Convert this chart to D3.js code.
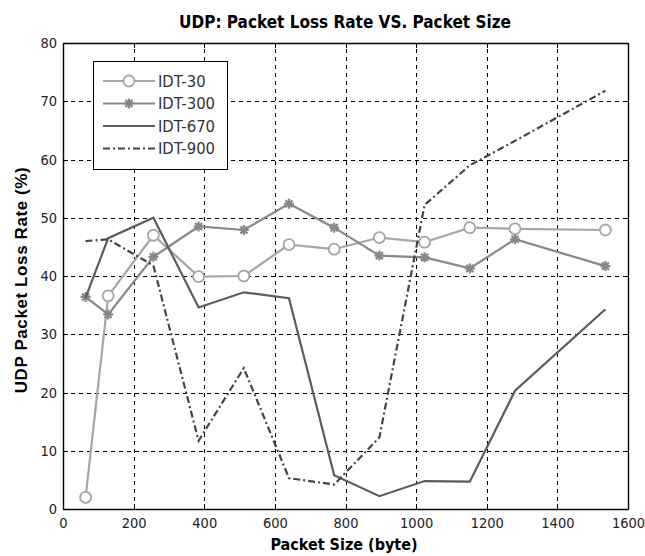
<!DOCTYPE html>
<html>
<head>
<meta charset="utf-8">
<script src="https://cdn.jsdelivr.net/npm/d3@7"></script>
<style>
  body { margin: 0; background: #fff; }
  text { font-family: "DejaVu Sans Condensed", "Liberation Sans Narrow", "Liberation Sans", Arial, sans-serif; }
</style>
</head>
<body>
<script>
// packet sizes (byte) shared by every series
const sizes = [64, 128, 256, 384, 512, 640, 768, 896, 1024, 1152, 1280, 1536];

// loss rate (%) per inter-departure time
const idt30  = [2, 36.6, 47, 39.9, 40, 45.4, 44.6, 46.6, 45.8, 48.3, 48.1, 47.9];
const idt300 = [36.4, 33.4, 43.3, 48.5, 47.9, 52.4, 48.3, 43.5, 43.2, 41.3, 46.3, 41.7];
const idt670 = [36.3, 46.5, 50, 34.6, 37.2, 36.2, 5.8, 2.2, 4.8, 4.7, 20.3, 34.3];
const idt900 = [46, 46.3, 41.8, 11.7, 24.2, 5.3, 4.2, 12.3, 52.2, 59, 63.2, 71.8];

const seriesNames = ['IDT-30', 'IDT-300', 'IDT-670', 'IDT-900'];
const xTicks = [0, 200, 400, 600, 800, 1000, 1200, 1400, 1600];
const yTicks = [0, 10, 20, 30, 40, 50, 60, 70, 80];

const W = 645, H = 556;
const margin = {top: 43, right: 17, bottom: 47, left: 63};
const iw = W - margin.left - margin.right;
const ih = H - margin.top - margin.bottom;
const FONT = '"DejaVu Sans Condensed", "Liberation Sans Narrow", "Liberation Sans", Arial, sans-serif';

const svg = d3.select(document.body).append('svg')
  .attr('width', W)
  .attr('height', H);

const g = svg.append('g')
  .attr('transform', `translate(${margin.left},${margin.top})`);

const x = d3.scaleLinear().domain([0, 1600]).range([0, iw]);
const y = d3.scaleLinear().domain([0, 80]).range([ih, 0]);

// dashed grid, done with axes so the lines land on the ticks
const gx = g.append('g')
  .attr('transform', `translate(0,${ih})`)
  .call(d3.axisBottom(x).tickValues(xTicks.slice(1, -1)).tickSize(-ih).tickFormat(''));
const gy = g.append('g')
  .call(d3.axisLeft(y).tickValues(yTicks.slice(1, -1)).tickSize(-iw).tickFormat(''));
[gx, gy].forEach(a => {
  a.select('.domain').remove();
  a.selectAll('line')
    .style('stroke', '#000')
    .style('stroke-width', 1)
    .style('stroke-dasharray', '4,4')
    .style('shape-rendering', 'crispEdges');
});

// axes, ticks pointing inward like matlab
const xAxis = g.append('g')
  .attr('transform', `translate(0,${ih})`)
  .call(d3.axisBottom(x).tickValues(xTicks).tickFormat(d3.format('d'))
    .tickSizeInner(-5).tickSizeOuter(0).tickPadding(9));
const yAxis = g.append('g')
  .call(d3.axisLeft(y).tickValues(yTicks).tickFormat(d3.format('d'))
    .tickSizeInner(-5).tickSizeOuter(0).tickPadding(6));
const topAxis = g.append('g')
  .call(d3.axisTop(x).tickValues(xTicks).tickSizeInner(-5).tickSizeOuter(0).tickFormat(''));
const rightAxis = g.append('g')
  .attr('transform', `translate(${iw},0)`)
  .call(d3.axisRight(y).tickValues(yTicks).tickSizeInner(-5).tickSizeOuter(0).tickFormat(''));

[xAxis, yAxis, topAxis, rightAxis].forEach(a => {
  a.select('.domain').style('stroke', '#000').style('stroke-width', 1.4);
  a.selectAll('.tick line').style('stroke', '#000').style('stroke-width', 1)
    .style('shape-rendering', 'crispEdges');
});
[xAxis, yAxis].forEach(a => a.selectAll('text')
  .attr('font-size', 14.5).attr('fill', '#222')
  .style('font-family', FONT));

// series
const series = [
  {name: seriesNames[0], vals: idt30,  color: '#a6a6a6', dash: null, marker: 'circle'},
  {name: seriesNames[1], vals: idt300, color: '#888888', dash: null, marker: 'star'},
  {name: seriesNames[2], vals: idt670, color: '#5c5c5c', dash: null, marker: null},
  {name: seriesNames[3], vals: idt900, color: '#454545', dash: '7,3,2,3', marker: null}
];

const line = d3.line().x(d => x(d[0])).y(d => y(d[1]));

// little asterisk marker
const star = r => {
  let p = '';
  for (let k = 0; k < 4; k++) {
    const a = k * Math.PI / 4;
    const dx = r * Math.cos(a), dy = r * Math.sin(a);
    p += `M${-dx},${-dy}L${dx},${dy}`;
  }
  return p;
};

function drawMarker(sel, s) {
  if (s.marker === 'circle') {
    sel.append('circle').attr('r', 5.5)
      .attr('fill', '#fff').attr('stroke', s.color).attr('stroke-width', 1.8);
  } else if (s.marker === 'star') {
    sel.append('path').attr('d', star(5))
      .attr('stroke', s.color).attr('stroke-width', 2.2);
    sel.append('circle').attr('r', 2.2).attr('fill', s.color);
  }
}

series.forEach(s => {
  const pts = sizes.map((v, i) => [v, s.vals[i]]);
  g.append('path')
    .datum(pts)
    .attr('d', line)
    .attr('fill', 'none')
    .attr('stroke', s.color)
    .attr('stroke-width', 2.2)
    .attr('stroke-dasharray', s.dash);
  if (s.marker) {
    g.append('g').selectAll('g')
      .data(pts)
      .join('g')
      .attr('transform', d => `translate(${x(d[0])},${y(d[1])})`)
      .each(function() { drawMarker(d3.select(this), s); });
  }
});

// legend
const leg = svg.append('g').attr('transform', 'translate(93,61)');
leg.append('rect')
  .attr('width', 134).attr('height', 108)
  .attr('fill', '#fff').attr('stroke', '#000').attr('stroke-width', 1)
  .style('shape-rendering', 'crispEdges');
series.forEach((s, i) => {
  const row = leg.append('g').attr('transform', `translate(0,${20 + i * 22.5})`);
  row.append('line')
    .attr('x1', 10).attr('x2', 62)
    .attr('stroke', s.color).attr('stroke-width', 2.2)
    .attr('stroke-dasharray', s.dash);
  const m = row.append('g').attr('transform', 'translate(36,0)');
  drawMarker(m, s);
  row.append('text')
    .attr('x', 65).attr('y', 0).attr('dy', '0.36em')
    .attr('font-size', 16.5).attr('fill', '#333')
    .text(s.name);
});

// titles
svg.append('text')
  .attr('x', 345).attr('y', 28)
  .attr('text-anchor', 'middle')
  .attr('font-size', 17).attr('font-weight', 'bold')
  .text('UDP: Packet Loss Rate VS. Packet Size');
svg.append('text')
  .attr('x', 344).attr('y', 550)
  .attr('text-anchor', 'middle')
  .attr('font-size', 16).attr('font-weight', 'bold')
  .text('Packet Size (byte)');
svg.append('text')
  .attr('transform', 'translate(27,280) rotate(-90)')
  .attr('text-anchor', 'middle')
  .attr('font-size', 17).attr('font-weight', 'bold')
  .attr('letter-spacing', 0.6)
  .style('font-family', '"Liberation Sans", Arial, sans-serif')
  .text('UDP Packet Loss Rate (%)');
</script>
</body>
</html>
